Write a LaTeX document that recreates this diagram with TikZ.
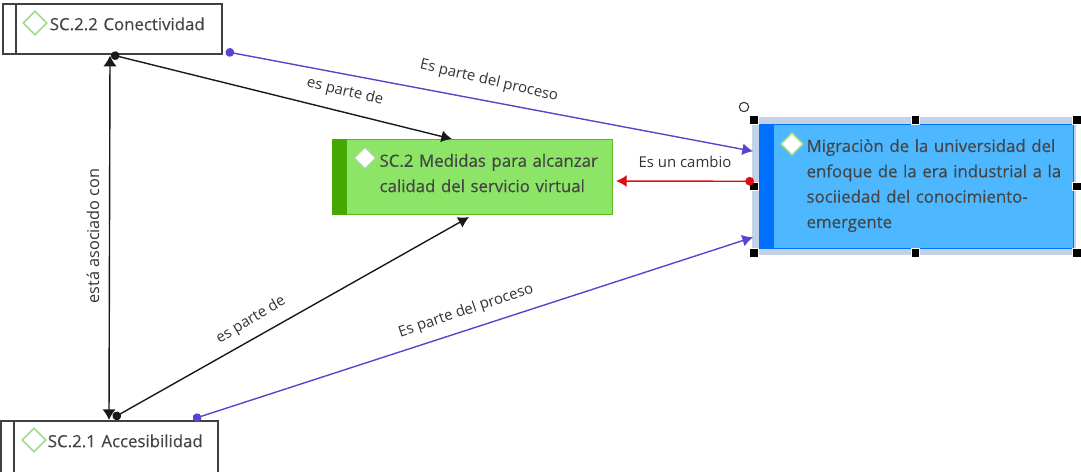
\documentclass[tikz,border=0pt]{standalone}
\usepackage{fontspec}
\setmainfont{Open Sans}
\newfontfamily\boxfont{Open Sans}[FakeBold=0.35]
\usetikzlibrary{arrows.meta,shapes.geometric,calc}
\definecolor{inkc}{HTML}{454545}
\definecolor{labelc}{HTML}{333333}
\definecolor{purp}{HTML}{5546CC}
\definecolor{redc}{HTML}{E00C14}
\definecolor{greenf}{HTML}{8CE566}
\definecolor{greend}{HTML}{46A800}
\definecolor{bluef}{HTML}{4DB8FF}
\definecolor{blued}{HTML}{0070FF}
\definecolor{selc}{HTML}{C3D2E6}
\definecolor{diamg}{HTML}{A3D98C}
\newcommand{\liftup}[1]{\rule[-#1]{0pt}{#1}}
\newcommand{\ind}{\hspace*{35.3pt}}
\tikzset{
  x=0.75pt,y=-0.75pt,
  box/.style={rectangle,anchor=north west,inner sep=0pt,align=left,font=\boxfont\fontsize{12.6}{19}\selectfont,text=inkc},
  whitebox/.style={box,draw=black!75,line width=1.2pt,fill=white},
  diam/.style={diamond,draw=diamg,line width=1.2pt,fill=white,inner sep=0pt,minimum width=18pt,minimum height=18pt},
  handle/.style={rectangle,fill=black,draw=white,line width=.3pt,inner sep=0pt,minimum size=6.5pt},
  lbl/.style={font=\fontsize{11.2}{13}\selectfont,text=labelc,inner sep=0pt},
  blackline/.style={draw=black!90,line width=1.05pt},
  purpline/.style={draw=purp,line width=1.05pt},
  redline/.style={draw=redc,line width=1.05pt},
  dotstart/.style={{Circle[length=6.5pt,width=6.5pt]}-{Latex[length=8pt,width=9pt]}},
  bothtip/.style={{Latex[length=8pt,width=10pt]}-{Latex[length=8pt,width=10pt]}},
}
\begin{document}
\begin{tikzpicture}
\useasboundingbox (0,0) rectangle (1081,471);
\clip (0,0) rectangle (1081,471);
% selection frame
\node[rectangle,fill=selc,draw=none,anchor=north west,minimum width=243pt,minimum height=103.5pt,inner sep=0pt] (sel) at (752,117) {};
\node[rectangle,anchor=north west,minimum width=241.5pt,minimum height=99pt,inner sep=0pt] (hf) at (754,120) {};
% boxes
\node[whitebox,minimum height=37.5pt,text width=164.25pt] (c22) at (2,3) {\ind SC.2.2 Conectividad\liftup{7.5pt}};
\node[whitebox,minimum height=45pt,text width=163pt] (c21) at (0,420) {\ind SC.2.1 Accesibilidad\liftup{15pt}};
\node[box,fill=greenf,draw=greend!70!greenf,line width=.8pt,minimum height=56.25pt,text width=210pt] (g) at (332,139) {\ind SC.2 Medidas para alcanzar\\\ind calidad del servicio virtual\liftup{6pt}};
\node[box,fill=bluef,draw=blued,line width=.8pt,minimum height=93pt,text width=235.5pt] (m) at (759,124) {\ind Migraciòn de la universidad del\\\ind enfoque de la era industrial a la\\\ind sociiedad del conocimiento-\\\ind emergente\liftup{4.5pt}};
% side bars
\draw[black!75,line width=1.2pt] ($(c22.north west)+(14,0)$) -- ($(c22.south west)+(14,0)$);
\draw[black!75,line width=1.2pt] ($(c21.north west)+(14,0)$) -- ($(c21.south west)+(14,0)$);
\fill[greend] (g.north west) rectangle ($(g.south west)+(15,0)$);
\fill[blued] (m.north west) rectangle ($(m.south west)+(15,0)$);
% diamonds
\node[diam] (d22) at ($(c22.north west)+(33,20)$) {};
\node[diam] (d21) at ($(c21.north west)+(34,20)$) {};
\node[diam,minimum width=17pt,minimum height=17pt] (dg) at ($(g.north west)+(33,19)$) {};
\node[diam,minimum width=17pt,minimum height=17pt] (dm) at ($(m.north west)+(33,20)$) {};
% handles
\node[handle] (h1) at (hf.north west) {};
\node[handle] (h2) at (hf.north) {};
\node[handle] (h3) at (hf.north east) {};
\node[handle] (h4) at (hf.west) {};
\node[handle] (h5) at (hf.east) {};
\node[handle] (h6) at (hf.south west) {};
\node[handle] (h7) at (hf.south) {};
\node[handle] (h8) at (hf.south east) {};
\node[circle,draw=black!80,fill=white,line width=.8pt,inner sep=0pt,minimum size=7pt] (rot) at (744,107) {};
% connector ends
\coordinate (a1) at ($(c22.south east)+(3,-3)$);
\coordinate (a2) at ($(hf.west)+(-1,-35)$);
\coordinate (b1) at ($(c21.north west)+(193,-1)$);
\coordinate (b2) at ($(hf.west)+(-1,51)$);
\coordinate (e1) at ($(c22.south west)+(109,0)$);
\coordinate (e2) at ($(g.north west)+(120,0)$);
\coordinate (f1) at ($(c21.north west)+(113,-2)$);
\coordinate (f2) at ($(g.south west)+(137,2)$);
\coordinate (v1) at ($(c22.south west)+(108,1)$);
\coordinate (v2) at ($(c21.north west)+(109,0)$);
\coordinate (r1) at ($(hf.west)+(0,-5)$);
\coordinate (r2) at ($(g.east)+(3,4)$);
% connectors
\draw[purpline,{Circle[length=6.5pt,width=6.5pt,purp]}-{Latex[length=8pt,width=9pt,purp]}] (a1) -- (a2);
\draw[purpline,{Circle[length=6.5pt,width=6.5pt,purp]}-{Latex[length=8pt,width=9pt,purp]}] (b1) -- (b2);
\draw[blackline,dotstart] (e1) -- (e2);
\draw[blackline,dotstart] (f1) -- (f2);
\draw[blackline,bothtip] (v1) -- (v2);
\draw[redline,dotstart] (r1) -- (r2);
% labels
\node[lbl,rotate=-13.5] (l1) at (345,92) {es parte de};
\node[lbl,rotate=-13] (l2) at (489,81) {Es parte del proceso};
\node[lbl] (l3) at (685,162) {Es un cambio};
\node[lbl,rotate=90,font=\fontsize{12.2}{14}\selectfont] (l4) at (93,236) {está asociado con};
\node[lbl,rotate=31] (l5) at (251,320) {es parte de};
\node[lbl,rotate=18.5] (l6) at (466,311) {Es parte del proceso};
\end{tikzpicture}
\end{document}
